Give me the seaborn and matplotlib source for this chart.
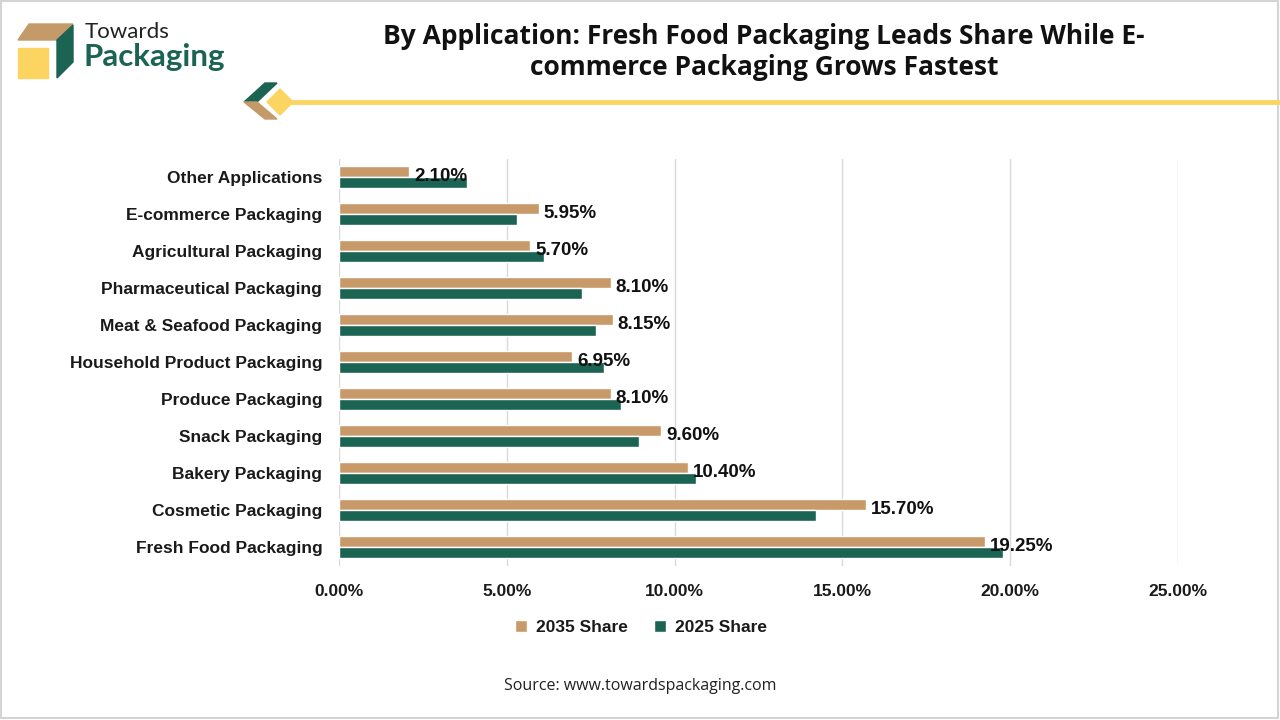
import pandas as pd
import seaborn as sns
import matplotlib.pyplot as plt
from matplotlib.patches import Polygon, Rectangle
from matplotlib.ticker import FuncFormatter

# Chart data
categories = ['Other Applications', 'E-commerce Packaging', 'Agricultural Packaging',
              'Pharmaceutical Packaging', 'Meat & Seafood Packaging',
              'Household Product Packaging', 'Produce Packaging', 'Snack Packaging',
              'Bakery Packaging', 'Cosmetic Packaging', 'Fresh Food Packaging']
share_2035 = [2.10, 5.95, 5.70, 8.10, 8.15, 6.95, 8.10, 9.60, 10.40, 15.70, 19.25]
share_2025 = [3.80, 5.30, 6.10, 7.25, 7.65, 7.90, 8.40, 8.95, 10.65, 14.20, 19.80]
series = ['2035 Share', '2025 Share']
x_ticks = [0, 5, 10, 15, 20, 25]

title = 'By Application: Fresh Food Packaging Leads Share While E-\ncommerce Packaging Grows Fastest'
source = 'Source: www.towardspackaging.com'

TAN = '#C89A6A'
GREEN = '#1B6454'
YELLOW = '#FCD462'

df = pd.DataFrame({
    'Application': categories * 2,
    'Share': share_2035 + share_2025,
    'Series': [series[0]] * len(categories) + [series[1]] * len(categories),
})

sns.set_theme(style='white')
plt.rcParams['font.family'] = ['Liberation Sans', 'DejaVu Sans']

fig = plt.figure(figsize=(12.8, 7.2), dpi=100)

# background decoration layer in pixel coordinates
deco = fig.add_axes([0, 0, 1, 1], zorder=0)
deco.set_xlim(0, 1280)
deco.set_ylim(720, 0)
deco.axis('off')
deco.add_patch(Rectangle((1, 1), 1277, 717, fill=False, edgecolor='#d4d4d4', lw=1.5))
# logo cube
deco.add_patch(Rectangle((18, 48), 30, 30, color=YELLOW))
deco.add_patch(Polygon([(18, 40), (29, 24), (73, 24), (57, 40)], color='#C49A68'))
deco.add_patch(Polygon([(57, 40), (73, 25), (73, 62), (57, 78)], color=GREEN))
deco.text(85, 32, 'Towards', fontsize=16, color='#222222', va='center', family=['Lato', 'DejaVu Sans'])
deco.text(84, 57, 'Packaging', fontsize=22.5, fontweight='bold', color=GREEN, va='center',
          family=['Lato', 'DejaVu Sans'])
# arrow ornament and line under the title
deco.add_patch(Polygon([(244, 102), (265, 83), (277, 83), (257, 102)], color=GREEN))
deco.add_patch(Polygon([(244, 102), (257, 102), (277, 119), (265, 119)], color='#C49A68'))
deco.plot([285, 1280], [102, 102], color=YELLOW, lw=3.5, solid_capstyle='butt')
deco.add_patch(Polygon([(267, 102), (280, 89), (293, 102), (280, 115)], color=YELLOW))

fig.text(0.597, 0.968, title, ha='center', va='top', fontsize=19, fontweight='bold',
         color='#111111', family=['Open Sans', 'DejaVu Sans'], linespacing=1.2)

ax = fig.add_axes([339 / 1280, 1 - 565.5 / 720, (1178 - 339) / 1280, 407 / 720], zorder=1)
ax.patch.set_alpha(0)
sns.barplot(data=df, y='Application', x='Share', hue='Series', hue_order=series,
            order=categories, palette=[TAN, GREEN], width=0.6, orient='h',
            saturation=1, ax=ax, legend=True)

ax.set_xlim(0, 25)
ax.set_xticks(x_ticks)
ax.xaxis.set_major_formatter(FuncFormatter(lambda v, p: f'{v:.2f}%'))
ax.grid(axis='x', color='#d9d9d9', lw=1)
ax.grid(axis='y', visible=False)
ax.set_axisbelow(True)
for s in ax.spines.values():
    s.set_visible(False)
ax.set_xlabel('')
ax.set_ylabel('')
ax.tick_params(axis='x', length=0, pad=13, labelsize=12.5, labelcolor='#1a1a1a')
ax.tick_params(axis='y', length=0, pad=12, labelsize=12.5, labelcolor='#1a1a1a')
for lbl in ax.get_xticklabels() + ax.get_yticklabels():
    lbl.set_fontweight('bold')

# value labels for the 2035 series
for i, v in enumerate(share_2035):
    ax.annotate(f'{v:.2f}%', xy=(v, i), xytext=(3.5, 0.5), textcoords='offset points',
                ha='left', va='center', fontsize=13.5, fontweight='bold', color='#111111')

leg = ax.legend(loc='upper center', bbox_to_anchor=(0.36, -0.095), ncol=2, frameon=False,
                handlelength=0.7, handleheight=0.7, handletextpad=0.5, columnspacing=1.5,
                prop={'weight': 'bold', 'size': 12.5})
for t in leg.get_texts():
    t.set_color('#1a1a1a')

fig.text(0.5, 0.047, source, ha='center', va='center', fontsize=11.5, color='#222222',
         family=['Open Sans', 'DejaVu Sans'])

fig.savefig('out.png', dpi=100)
